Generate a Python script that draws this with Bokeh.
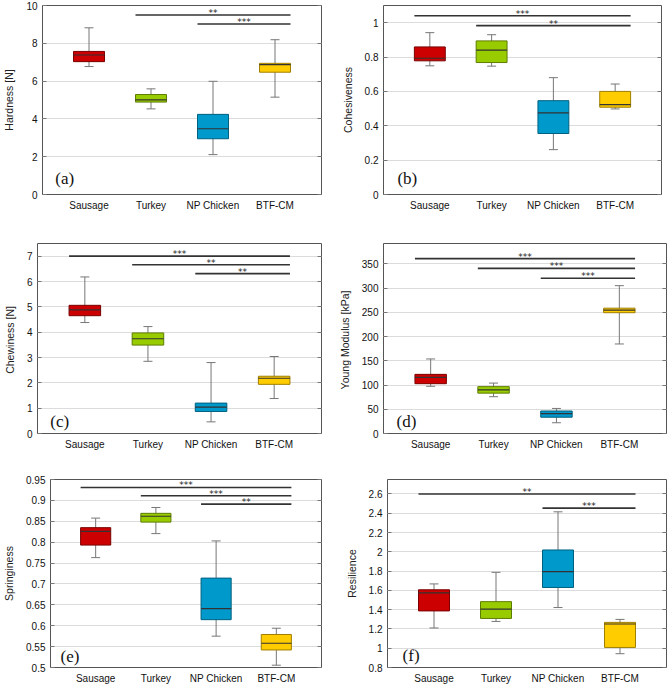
from bokeh.plotting import figure
from bokeh.layouts import column, row
from bokeh.models import Range1d, FixedTicker, LinearAxis, Label, CustomJSTickFormatter
from bokeh.embed import file_html
from bokeh.resources import INLINE
from bokeh.core.properties import value

categories = ["Sausage", "Turkey", "NP Chicken", "BTF-CM"]
box_colors = ["#CC0000", "#99CC00", "#0099CC", "#FFCC00"]
edge_colors = ["#7A0000", "#5E7D00", "#00607F", "#A07F00"]

# (a) Hardness [N]
hard_low = [6.77, 4.53, 2.11, 5.15]
hard_q1 = [7.03, 4.89, 2.95, 6.47]
hard_med = [7.38, 5.01, 3.48, 6.87]
hard_q3 = [7.57, 5.29, 4.24, 6.94]
hard_high = [8.82, 5.59, 5.99, 8.19]
hard_sig_from = [2, 3]
hard_sig_y = [9.5, 9.02]
hard_sig_txt = ["**", "***"]

# (b) Cohesiveness
coh_low = [0.749, 0.747, 0.261, 0.498]
coh_q1 = [0.778, 0.768, 0.355, 0.508]
coh_med = [0.793, 0.840, 0.475, 0.523]
coh_q3 = [0.859, 0.894, 0.546, 0.600]
coh_high = [0.942, 0.930, 0.680, 0.643]
coh_sig_from = [1, 2]
coh_sig_y = [1.04, 0.983]
coh_sig_txt = ["***", "**"]

# (c) Chewiness [N]
chew_low = [4.38, 2.85, 0.46, 1.38]
chew_q1 = [4.65, 3.49, 0.87, 1.94]
chew_med = [4.88, 3.74, 1.04, 2.18]
chew_q3 = [5.06, 3.97, 1.20, 2.26]
chew_high = [6.18, 4.22, 2.80, 3.04]
chew_sig_from = [1, 2, 3]
chew_sig_y = [7.0, 6.66, 6.31]
chew_sig_txt = ["***", "**", "**"]

# (d) Young Modulus [kPa]
young_low = [97.4, 75.9, 22.2, 184.7]
young_q1 = [102.8, 83.3, 33.6, 249.2]
young_med = [116.0, 90.0, 41.0, 254.6]
young_q3 = [122.0, 96.7, 46.4, 258.6]
young_high = [153.8, 104.0, 51.7, 305.0]
young_sig_from = [1, 2, 3]
young_sig_y = [360.7, 340.6, 320.4]
young_sig_txt = ["***", "***", "***"]

# (e) Springiness
spr_low = [0.763, 0.8205, 0.575, 0.5055]
spr_q1 = [0.793, 0.848, 0.6145, 0.542]
spr_med = [0.826, 0.862, 0.641, 0.558]
spr_q3 = [0.8347, 0.869, 0.714, 0.579]
spr_high = [0.8576, 0.883, 0.803, 0.594]
spr_sig_from = [1, 2, 3]
spr_sig_y = [0.931, 0.911, 0.891]
spr_sig_txt = ["***", "***", "**"]

# (f) Resilience
res_low = [1.21, 1.278, 1.422, 0.943]
res_q1 = [1.387, 1.309, 1.630, 1.008]
res_med = [1.575, 1.405, 1.794, 1.251]
res_q3 = [1.606, 1.483, 2.019, 1.268]
res_high = [1.667, 1.787, 2.415, 1.299]
res_sig_from = [1, 3]
res_sig_y = [2.6, 2.453]
res_sig_txt = ["**", "***"]

FONT = "Liberation Sans"
BOX_W = 0.5
XR = (0.25, 4.75)
xs = [1, 2, 3, 4]

fmt = CustomJSTickFormatter(code="return String(Math.round(tick*1000)/1000)")


def panel(ylabel, letter, low, q1, med, q3, high, sig_from, sig_y, sig_txt,
          yr, ticks, fig_w, fig_h, col_x, row_y, frame, lab_frac):
    L, R, T, B = frame
    bl = int(round(L - col_x))
    br = max(1, int(round(col_x + fig_w - R)))
    bt = int(round(T - row_y))
    bb = int(round(row_y + fig_h - B))
    p = figure(width=fig_w, height=fig_h, x_range=Range1d(*XR), y_range=Range1d(*yr),
               output_backend="svg", toolbar_location=None,
               min_border_left=bl, min_border_right=br, min_border_top=bt, min_border_bottom=bb,
               background_fill_color="white", border_fill_color="white")
    p.outline_line_color = "#555555"
    p.outline_line_width = 1
    p.xgrid.visible = False
    p.ygrid.grid_line_color = "#dcdcdc"
    p.ygrid.ticker = FixedTicker(ticks=ticks)

    ya = p.yaxis[0]
    ya.ticker = FixedTicker(ticks=ticks)
    ya.formatter = fmt
    ya.axis_label = ylabel
    ya.axis_label_text_font = FONT
    ya.axis_label_text_font_size = "10.5px"
    ya.axis_label_text_font_style = "normal"
    ya.axis_label_text_color = "#222222"
    ya.axis_label_standoff = 8
    ya.major_label_text_font = FONT
    ya.major_label_text_font_size = "10px"
    ya.major_label_text_color = "#111111"
    ya.major_label_standoff = 5
    ya.major_tick_in = 4
    ya.major_tick_out = 0
    ya.major_tick_line_color = "#777777"
    ya.minor_tick_line_color = None
    ya.axis_line_color = None

    xa = p.xaxis[0]
    xa.ticker = FixedTicker(ticks=xs)
    xa.major_label_overrides = {x: c for x, c in zip(xs, categories)}
    xa.major_label_text_font = FONT
    xa.major_label_text_font_size = "10px"
    xa.major_label_text_color = "#111111"
    xa.major_label_standoff = 5
    xa.major_tick_in = 0
    xa.major_tick_out = 0
    xa.major_tick_line_color = None
    xa.minor_tick_line_color = None
    xa.minor_tick_out = 0
    xa.axis_line_color = None

    ra = LinearAxis(ticker=FixedTicker(ticks=ticks), major_label_text_font_size="0px",
                    major_label_text_color=None,
                    major_tick_in=4, major_tick_out=0, major_label_standoff=0,
                    minor_tick_line_color=None, minor_tick_out=0, axis_line_color=None,
                    major_tick_line_color="#777777")
    p.add_layout(ra, "right")

    # whiskers
    p.segment(x0=xs, x1=xs, y0=low, y1=high, line_color="#777777", line_width=1)
    p.scatter(x=xs, y=high, marker="dash", size=9, line_color="#777777", line_width=1)
    p.scatter(x=xs, y=low, marker="dash", size=9, line_color="#777777", line_width=1)
    # boxes
    p.vbar(x=xs, width=BOX_W, bottom=q1, top=q3, fill_color=box_colors,
           line_color=edge_colors, line_width=1)
    p.segment(x0=[x - BOX_W / 2 for x in xs], x1=[x + BOX_W / 2 for x in xs],
              y0=med, y1=med, line_color="#333333", line_width=1.2)

    # significance bars
    x_end = xs[-1] + BOX_W / 2
    starts = [f - BOX_W / 2 for f in sig_from]
    p.segment(x0=starts, x1=[x_end] * len(starts), y0=sig_y, y1=sig_y,
              line_color="#333333", line_width=1.6)
    p.text(x=[(s + x_end) / 2 for s in starts], y=sig_y, text=sig_txt,
           text_align="center", text_baseline="middle", y_offset=-2,
           text_font=value("DejaVu Sans"), text_font_size="9px", text_color="#222222")

    fx, fy = lab_frac
    p.add_layout(Label(x=XR[0] + fx * (XR[1] - XR[0]), y=yr[0] + fy * (yr[1] - yr[0]),
                       text=letter, text_font="Liberation Serif", text_font_size="17px",
                       text_baseline="middle", text_align="left", text_color="#111111"))
    return p


W_L = 335
W_R = 333
H1 = 225
H2 = 230
H3 = 231
R2 = H1
R3 = H1 + H2

pa = panel("Hardness [N]", "(a)", hard_low, hard_q1, hard_med, hard_q3, hard_high,
           hard_sig_from, hard_sig_y, hard_sig_txt, (0, 10), [0, 2, 4, 6, 8, 10],
           W_L, H1, 0, 0, (37, 321, 5, 194), (0.046, 0.085))
pb = panel("Cohesiveness", "(b)", coh_low, coh_q1, coh_med, coh_q3, coh_high,
           coh_sig_from, coh_sig_y, coh_sig_txt, (0, 1.1), [0, 0.2, 0.4, 0.6, 0.8, 1.0],
           W_R, H1, W_L, 0, (383, 661, 5, 194), (0.05, 0.085))
pc = panel("Chewiness  [N]", "(c)", chew_low, chew_q1, chew_med, chew_q3, chew_high,
           chew_sig_from, chew_sig_y, chew_sig_txt, (0, 7.5), [0, 1, 2, 3, 4, 5, 6, 7],
           W_L, H2, 0, R2, (32, 321, 243, 434), (0.045, 0.063))
pd_ = panel("Young Modulus  [kPa]", "(d)", young_low, young_q1, young_med, young_q3, young_high,
            young_sig_from, young_sig_y, young_sig_txt, (0, 392),
            [0, 50, 100, 150, 200, 250, 300, 350],
            W_R, H2, W_L, R2, (383, 666, 239, 433), (0.046, 0.062))
pe = panel("Springiness", "(e)", spr_low, spr_q1, spr_med, spr_q3, spr_high,
           spr_sig_from, spr_sig_y, spr_sig_txt, (0.5, 0.95),
           [0.5, 0.55, 0.6, 0.65, 0.7, 0.75, 0.8, 0.85, 0.9, 0.95],
           W_L, H3, 0, R3, (48, 321, 479, 669), (0.037, 0.058))
pf = panel("Resilience", "(f)", res_low, res_q1, res_med, res_q3, res_high,
           res_sig_from, res_sig_y, res_sig_txt, (0.8, 2.75),
           [0.8, 1.0, 1.2, 1.4, 1.6, 1.8, 2.0, 2.2, 2.4, 2.6],
           W_R, H3, W_L, R3, (387, 666, 478, 669), (0.054, 0.063))

layout = column(row(pa, pb, spacing=0), row(pc, pd_, spacing=0), row(pe, pf, spacing=0), spacing=0)

open("out.html", "w").write(file_html(layout, INLINE))
